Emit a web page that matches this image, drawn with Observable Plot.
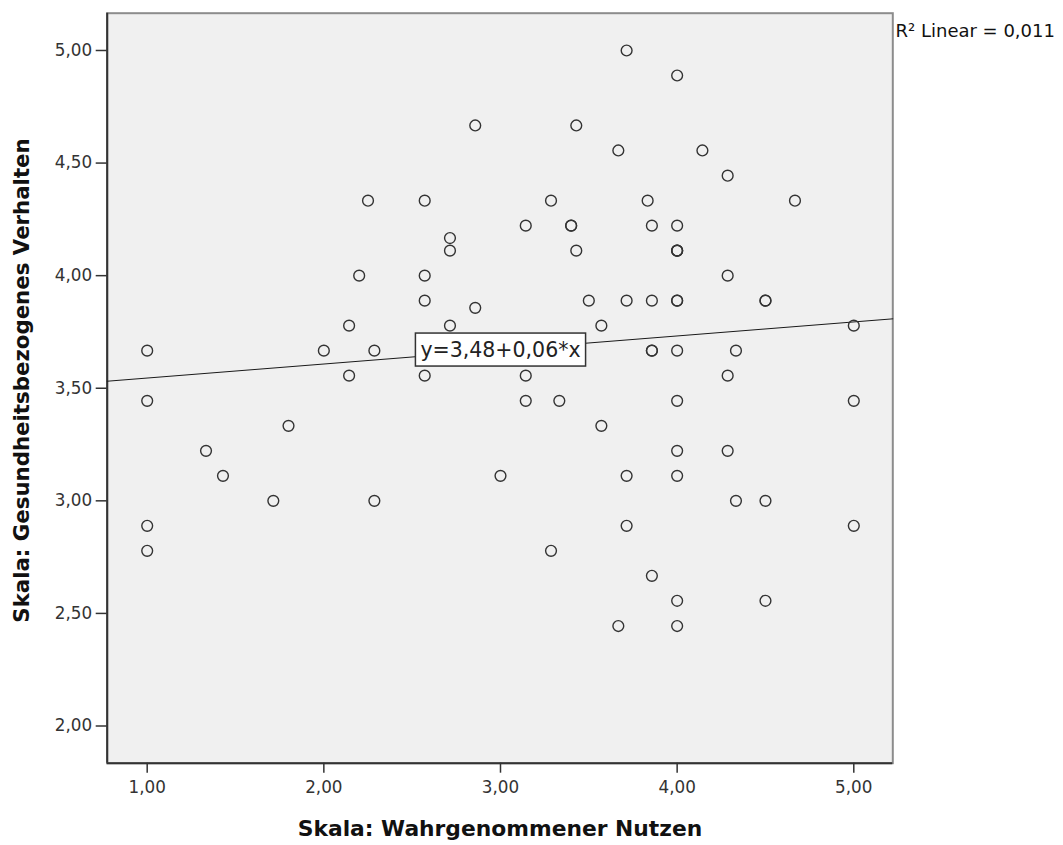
<!DOCTYPE html>
<html>
<head>
<meta charset="utf-8">
<script src="https://cdn.jsdelivr.net/npm/d3@7"></script>
<script src="https://cdn.jsdelivr.net/npm/@observablehq/plot@0.6"></script>
<style>
  html, body { margin: 0; padding: 0; background: #ffffff; }
  svg { display: block; }
</style>
</head>
<body>
<div id="chart"></div>
<script>
// Skala: Wahrgenommener Nutzen (x)
const nutzen = [
  2.857, 2.25, 2.571, 2.714, 2.714, 2.2, 2.571, 2.571, 2.857, 2.143, 2.714, 1.0, 2.0, 2.286, 2.143, 2.571,
  3.714, 4.0, 3.429, 3.667, 4.143, 4.286, 3.286, 3.833, 4.667, 3.143, 3.4, 3.4, 3.857, 4.0, 3.429,
  4.0, 4.0, 4.0, 4.286, 3.5, 3.714, 3.857, 4.0, 4.0, 4.5, 4.5, 3.571, 5.0, 3.857, 3.857, 4.0, 4.333,
  3.143, 4.286,
  1.0, 1.8, 1.333, 1.429, 3.0, 1.714, 2.286, 1.0, 1.0,
  3.143, 3.333, 4.0, 5.0, 3.571, 4.0, 4.286, 3.714, 4.0, 4.333, 4.5, 3.714, 5.0, 3.286, 3.857,
  4.0, 4.5, 3.667, 4.0
];
// Skala: Gesundheitsbezogenes Verhalten (y)
const verhalten = [
  4.667, 4.333, 4.333, 4.167, 4.111, 4.0, 4.0, 3.889, 3.857, 3.778, 3.778, 3.667, 3.667, 3.667, 3.556, 3.556,
  5.0, 4.889, 4.667, 4.556, 4.556, 4.444, 4.333, 4.333, 4.333, 4.222, 4.222, 4.222, 4.222, 4.222, 4.111,
  4.111, 4.111, 4.111, 4.0, 3.889, 3.889, 3.889, 3.889, 3.889, 3.889, 3.889, 3.778, 3.778, 3.667, 3.667, 3.667, 3.667,
  3.556, 3.556,
  3.444, 3.333, 3.222, 3.111, 3.111, 3.0, 3.0, 2.889, 2.778,
  3.444, 3.444, 3.444, 3.444, 3.333, 3.222, 3.222, 3.111, 3.111, 3.0, 3.0, 2.889, 2.889, 2.778, 2.667,
  2.556, 2.556, 2.444, 2.444
];

const xTicks = [1, 2, 3, 4, 5];
const yTicks = [2, 2.5, 3, 3.5, 4, 4.5, 5];
const xDomain = [0.7736, 5.2208];
const yDomain = [1.8348, 5.1656];

const xTitle = "Skala: Wahrgenommener Nutzen";
const yTitle = "Skala: Gesundheitsbezogenes Verhalten";
const r2Text = "R\u00B2 Linear = 0,011";
const eqText = "y=3,48+0,06*x";
const fitIntercept = 3.483;
const fitSlope = 0.0623;
const eqLabelX = 3.0;

const points = nutzen.map((x, i) => ({x, y: verhalten[i]}));
const fitLine = xDomain.map(x => ({x, y: fitIntercept + fitSlope * x}));
const eqLabel = [{x: eqLabelX, y: fitIntercept + fitSlope * eqLabelX, text: eqText}];

const fmt = d => d.toFixed(2).replace(".", ",");
const font = "'Lucida Grande', 'DejaVu Sans', sans-serif";

const chart = Plot.plot({
  width: 1063,
  height: 845,
  marginLeft: 106.7,
  marginRight: 170.7,
  marginTop: 12.7,
  marginBottom: 82.3,
  style: {fontFamily: font, background: "#ffffff", overflow: "visible"},
  x: {domain: xDomain, label: null},
  y: {domain: yDomain, label: null},
  marks: [
    Plot.frame({fill: "#f0f0f0", stroke: "#8c8c8c", strokeWidth: 2}),
    Plot.ruleX([xDomain[0]], {stroke: "#333", strokeWidth: 2}),
    Plot.ruleY([yDomain[0]], {stroke: "#333", strokeWidth: 2}),
    Plot.axisX(xTicks, {tickSize: 10, tickPadding: 8, tickFormat: fmt, fontSize: 16.8, color: "#333", strokeWidth: 1.5, label: null}),
    Plot.axisY(yTicks, {tickSize: 11, tickPadding: 4, tickFormat: fmt, fontSize: 16.8, color: "#333", strokeWidth: 1.5, label: null}),
    Plot.line(fitLine, {x: "x", y: "y", stroke: "#1a1a1a", strokeWidth: 1}),
    Plot.dot(points, {x: "x", y: "y", r: 5.4, stroke: "#333", strokeWidth: 1.4, fill: "none"}),
    Plot.text(eqLabel, {x: "x", y: "y", text: "text", fontSize: 20.5, fill: "#222", textAnchor: "middle", lineAnchor: "middle"}),
    Plot.text([r2Text], {frameAnchor: "top-right", textAnchor: "start", lineAnchor: "middle", dx: 2.7, dy: 18, fontSize: 18, fill: "#111"}),
    Plot.text([xTitle], {frameAnchor: "bottom", textAnchor: "middle", lineAnchor: "middle", dy: 65.4, fontSize: 21.8, fontWeight: "bold", fill: "#111"}),
    Plot.text([yTitle], {frameAnchor: "left", textAnchor: "middle", lineAnchor: "middle", rotate: -90, dx: -84.6, dy: -7.7, fontSize: 21.3, fontWeight: "bold", fill: "#111"})
  ]
});

document.getElementById("chart").appendChild(chart);

// white box behind the regression equation label
const eqNode = Array.from(chart.querySelectorAll("text")).find(n => n.textContent === eqText);
if (eqNode) {
  const bb = eqNode.getBBox();
  const padX = 5, padY = 4.5;
  const rect = document.createElementNS("http://www.w3.org/2000/svg", "rect");
  rect.setAttribute("x", bb.x - padX);
  rect.setAttribute("y", bb.y - padY);
  rect.setAttribute("width", bb.width + 2 * padX);
  rect.setAttribute("height", bb.height + 2 * padY);
  rect.setAttribute("fill", "#ffffff");
  rect.setAttribute("stroke", "#333");
  rect.setAttribute("stroke-width", 1.5);
  const tr = eqNode.getAttribute("transform");
  if (tr) rect.setAttribute("transform", tr);
  eqNode.parentNode.insertBefore(rect, eqNode);
}
</script>
</body>
</html>
